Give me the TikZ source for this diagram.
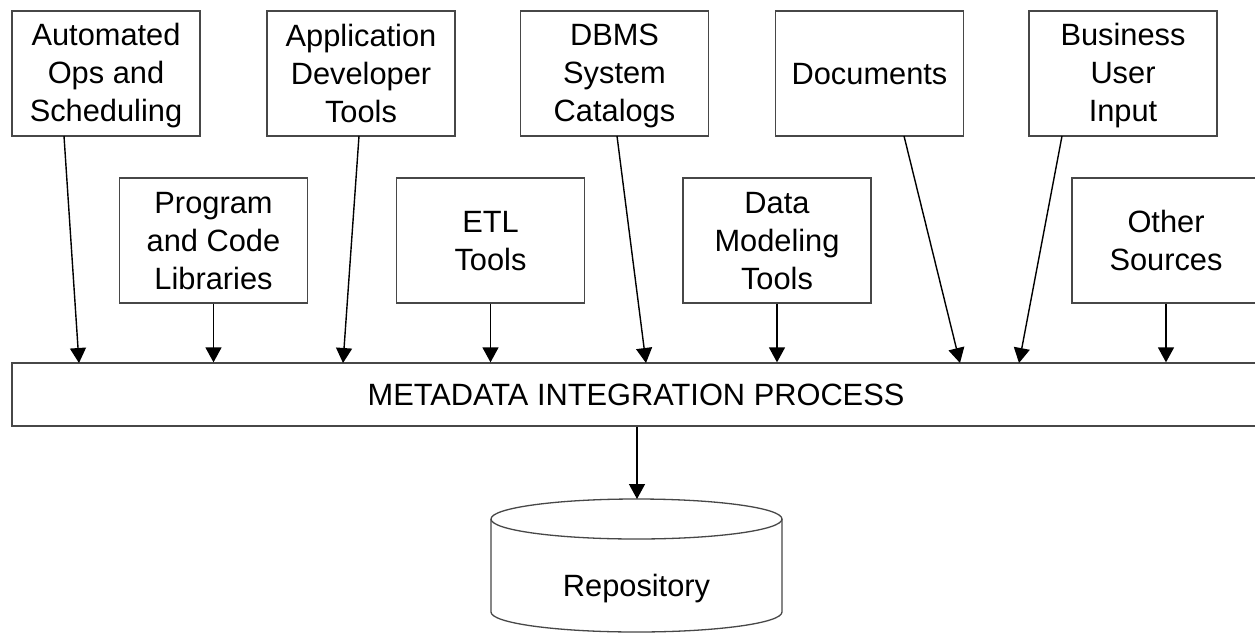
\documentclass[tikz,border=0pt]{standalone}
\usepackage{fontspec}
\setmainfont{Liberation Sans}
\usetikzlibrary{arrows.meta}
\newcommand{\ls}{\vrule height 26pt depth 4.6pt width 0pt}
\tikzset{
  srcbox/.style={draw=black!72, line width=1.3pt, rectangle, minimum width=188pt, minimum height=125pt, align=center, inner sep=0pt, font=\fontsize{30.8}{38}\selectfont},
  barbox/.style={draw=black!72, line width=1.3pt, rectangle, minimum width=1248pt, minimum height=63pt, inner sep=0pt, font=\fontsize{30.8}{38}\selectfont},
  arr/.style={draw=black, line width=1.4pt, -{Triangle[width=16pt,length=15pt]}},
  cyl/.style={draw=black!72, line width=1.3pt}
}
\begin{document}
\begin{tikzpicture}[x=1pt,y=-1pt]
\useasboundingbox (0,0) rectangle (1255,632);
\clip (0,0) rectangle (1255,632);
\fill[white] (0,0) rectangle (1255,632);
% top row
\node[srcbox] (auto) at (106,73.5) {\ls Automated\\\ls Ops and\\\ls Scheduling};
\node[srcbox] (app) at (361,73.5) {\ls Application\\\ls Developer\\\ls Tools};
\node[srcbox] (dbms) at (614.5,73.5) {\ls DBMS\\\ls System\\\ls Catalogs};
\node[srcbox] (docs) at (869.5,73.5) {\ls Documents};
\node[srcbox] (biz) at (1123,73.5) {\ls Business\\\ls User\\\ls Input};
% second row
\node[srcbox] (prog) at (213.5,240.5) {\ls Program\\\ls and Code\\\ls Libraries};
\node[srcbox] (etl) at (490.5,240.5) {\ls ETL\\\ls Tools};
\node[srcbox] (dm) at (777,240.5) {\ls Data\\\ls Modeling\\\ls Tools};
\node[srcbox] (other) at (1166,240.5) {\ls Other\\\ls Sources};
% bar
\node[barbox] (bar) at (636,394.5) {\ls METADATA INTEGRATION PROCESS};
% repository cylinder
\draw[cyl, fill=white] (491,519) -- (491,612) arc[start angle=180, end angle=0, x radius=145.5, y radius=20] -- (782,519);
\draw[cyl] (636.5,519) ellipse[x radius=145.5, y radius=20];
\node[font=\fontsize{30.8}{38}\selectfont, inner sep=0pt] (repo) at (636.5,587) {\ls Repository};
\coordinate (repotop) at (637,499);
% connector endpoints
\coordinate (autoOut) at (64,136);   \coordinate (autoIn) at (79,363);
\coordinate (appOut) at (359,136);   \coordinate (appIn) at (343,363);
\coordinate (dbmsOut) at (617,136);  \coordinate (dbmsIn) at (646,363);
\coordinate (docsOut) at (904,136);  \coordinate (docsIn) at (960,363);
\coordinate (bizOut) at (1062,136);  \coordinate (bizIn) at (1019,363);
\draw[arr] (autoOut) -- (autoIn);
\draw[arr] (appOut) -- (appIn);
\draw[arr] (dbmsOut) -- (dbmsIn);
\draw[arr] (docsOut) -- (docsIn);
\draw[arr] (bizOut) -- (bizIn);
\draw[arr] (prog.south) -- (prog.south |- bar.north);
\draw[arr] (etl.south) -- (etl.south |- bar.north);
\draw[arr] (dm.south) -- (dm.south |- bar.north);
\draw[arr] (other.south) -- (other.south |- bar.north);
\draw[arr] (bar.south -| repotop) -- (repotop);
\end{tikzpicture}
\end{document}
